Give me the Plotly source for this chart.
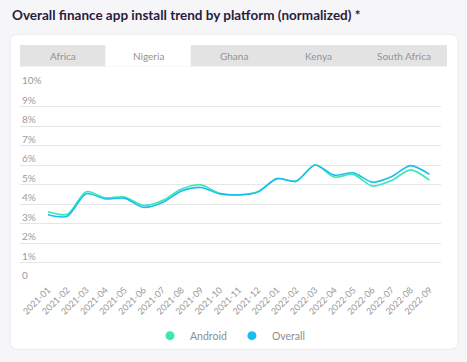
import plotly.graph_objects as go

months = ["2021-01","2021-02","2021-03","2021-04","2021-05","2021-06","2021-07",
          "2021-08","2021-09","2021-10","2021-11","2021-12","2022-01","2022-02",
          "2022-03","2022-04","2022-05","2022-06","2022-07","2022-08","2022-09"]
android = [3.6, 3.47, 4.63, 4.32, 4.36, 3.93, 4.18, 4.77, 4.98, 4.55, 4.47, 4.63,
           5.3, 5.17, 6.0, 5.38, 5.52, 4.92, 5.2, 5.75, 5.22]
overall = [3.45, 3.37, 4.53, 4.26, 4.3, 3.83, 4.08, 4.67, 4.85, 4.52, 4.47, 4.62,
           5.3, 5.17, 6.0, 5.48, 5.6, 5.12, 5.4, 5.97, 5.52]
yticks = [0, 1, 2, 3, 4, 5, 6, 7, 8, 9, 10]
ytick_text = ["0", "1%", "2%", "3%", "4%", "5%", "6%", "7%", "8%", "9%", "10%"]
tabs = ["Africa", "Nigeria", "Ghana", "Kenya", "South Africa"]
active_tab = "Nigeria"
title = "Overall finance app install trend by platform (normalized) *"
series = [("Android", android, "#3ae8b4"), ("Overall", overall, "#1bbdf0")]

W, H = 467, 362
L, R, T, B = 20, 26, 87, 75
PW, PH = W - L - R, H - T - B

def px(x):
    return (x - L) / PW

def py(y):
    return (H - B - y) / PH

fig = go.Figure()
for name, vals, col in series:
    fig.add_trace(go.Scatter(x=months, y=vals, name=name, mode="lines", showlegend=False,
                             hoverinfo="skip",
                             line=dict(color=col, width=1.6, shape="spline", smoothing=0.8)))
for name, vals, col in series:
    fig.add_trace(go.Scatter(x=[None], y=[None], name=name, mode="markers",
                             marker=dict(color=col, size=9, symbol="circle")))

shapes = []
x0, x1, y0, y1, r = 10, 458, 33, 356, 8
rx, ry = r / PW, r / PH
X0, X1, Y0, Y1 = px(x0), px(x1), py(y0), py(y1)
path = (f"M {X0+rx},{Y0} L {X1-rx},{Y0} Q {X1},{Y0} {X1},{Y0-ry} "
        f"L {X1},{Y1+ry} Q {X1},{Y1} {X1-rx},{Y1} L {X0+rx},{Y1} "
        f"Q {X0},{Y1} {X0},{Y1+ry} L {X0},{Y0-ry} Q {X0},{Y0} {X0+rx},{Y0} Z")
shapes.append(dict(type="path", xref="paper", yref="paper", path=path,
                   fillcolor="white", line=dict(color="#ececf0", width=1), layer="below"))
tx0, tx1, ty0, ty1 = 20, 447, 44, 66
shapes.append(dict(type="rect", xref="paper", yref="paper", x0=px(tx0), x1=px(tx1),
                   y0=py(ty0), y1=py(ty1), fillcolor="#e3e3e3", line=dict(width=0), layer="below"))
tw = (tx1 - tx0) / len(tabs)
annotations = []
for i, t in enumerate(tabs):
    if t == active_tab:
        shapes.append(dict(type="rect", xref="paper", yref="paper",
                           x0=px(tx0 + i * tw), x1=px(tx0 + (i + 1) * tw),
                           y0=py(ty0), y1=py(ty1), fillcolor="white",
                           line=dict(width=0), layer="below"))
    annotations.append(dict(text=t, xref="paper", yref="paper",
                            x=px(tx0 + (i + 0.5) * tw), y=py((ty0 + ty1) / 2),
                            showarrow=False, xanchor="center", yanchor="middle",
                            font=dict(family="Lato", size=10, color="#939393")))
annotations.append(dict(text=f"<b>{title}</b>", xref="paper", yref="paper",
                        x=px(10), y=py(13), showarrow=False, xanchor="left", yanchor="middle",
                        font=dict(family="Lato", size=13.5, color="#2a1b3d")))
for v, t in zip(yticks, ytick_text):
    annotations.append(dict(text=t, xref="paper", yref="y", x=0, y=v, yshift=-1,
                            showarrow=False, xanchor="left", yanchor="bottom",
                            font=dict(family="Lato", size=10, color="#9c9c9c")))

fig.update_layout(
    width=W, height=H,
    margin=dict(l=L, r=R, t=T, b=B, pad=0),
    paper_bgcolor="#f6f6f8", plot_bgcolor="white",
    shapes=shapes, annotations=annotations,
    showlegend=True,
    legend=dict(orientation="h", x=0.5, xanchor="center", y=py(342), yanchor="middle",
                font=dict(family="Lato", size=10.5, color="#8e8e8e"),
                bgcolor="rgba(0,0,0,0)", itemwidth=30),
    font=dict(family="Lato", color="#8e8e8e"),
)
fig.update_xaxes(type="category", range=[-1.47, 20.6], showgrid=False, zeroline=False,
                 showline=False, ticks="", tickangle=-45,
                 tickfont=dict(family="Lato", size=9, color="#999999"))
fig.update_yaxes(range=[0, 10], tickvals=yticks, showticklabels=False,
                 showgrid=True, gridcolor="#e6e6e6",
                 gridwidth=1, zeroline=False, showline=False, ticks="")

fig.write_html("out.html", config={"displayModeBar": False},
               post_script="document.body.style.margin='0';")
